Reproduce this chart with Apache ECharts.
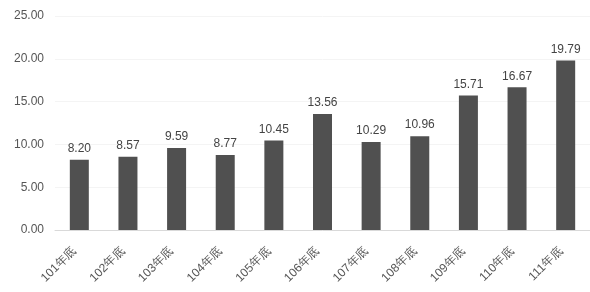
<!DOCTYPE html>
<html><head><meta charset="utf-8">
<script src="https://cdn.jsdelivr.net/npm/echarts@6/dist/echarts.min.js"></script>
<style>html,body{margin:0;padding:0;background:#fff}#c{width:590px;height:292px}</style>
</head><body><div id="c"></div>
<script>
var categories = ["101年底","102年底","103年底","104年底","105年底","106年底","107年底","108年底","109年底","110年底","111年底"];
var values = [8.20, 8.57, 9.59, 8.77, 10.45, 13.56, 10.29, 10.96, 15.71, 16.67, 19.79];
var yTicks = [0, 5, 25, 5]; // min, interval, max (tick labels 0.00..25.00)

var chart = echarts.init(document.getElementById('c'));
chart.setOption({
  animation: false,
  grid: {left: 55, top: 16, width: 541, height: 214},
  xAxis: {
    type: 'category', data: categories,
    axisLine: {lineStyle: {color: '#d9d9d9'}},
    axisTick: {show: false},
    axisLabel: {rotate: 45, color: '#555', fontSize: 12, fontFamily: 'Liberation Sans', margin: 14, padding: [0, 7, 0, 0], interval: 0}
  },
  yAxis: {
    type: 'value', min: yTicks[0], interval: yTicks[1], max: yTicks[2],
    axisLine: {show: false}, axisTick: {show: false},
    splitLine: {lineStyle: {color: '#f4f4f4'}},
    axisLabel: {color: '#555', fontSize: 12, fontFamily: 'Liberation Sans', margin: 11,
      formatter: function(v){return v.toFixed(2);}}
  },
  series: [{
    type: 'bar', data: values, barWidth: 19,
    itemStyle: {color: '#505050'},
    label: {show: true, position: 'top', color: '#444', fontSize: 12, fontFamily: 'Liberation Sans', distance: 5,
      formatter: function(p){return p.value.toFixed(2);}}
  }]
});
</script></body></html>
